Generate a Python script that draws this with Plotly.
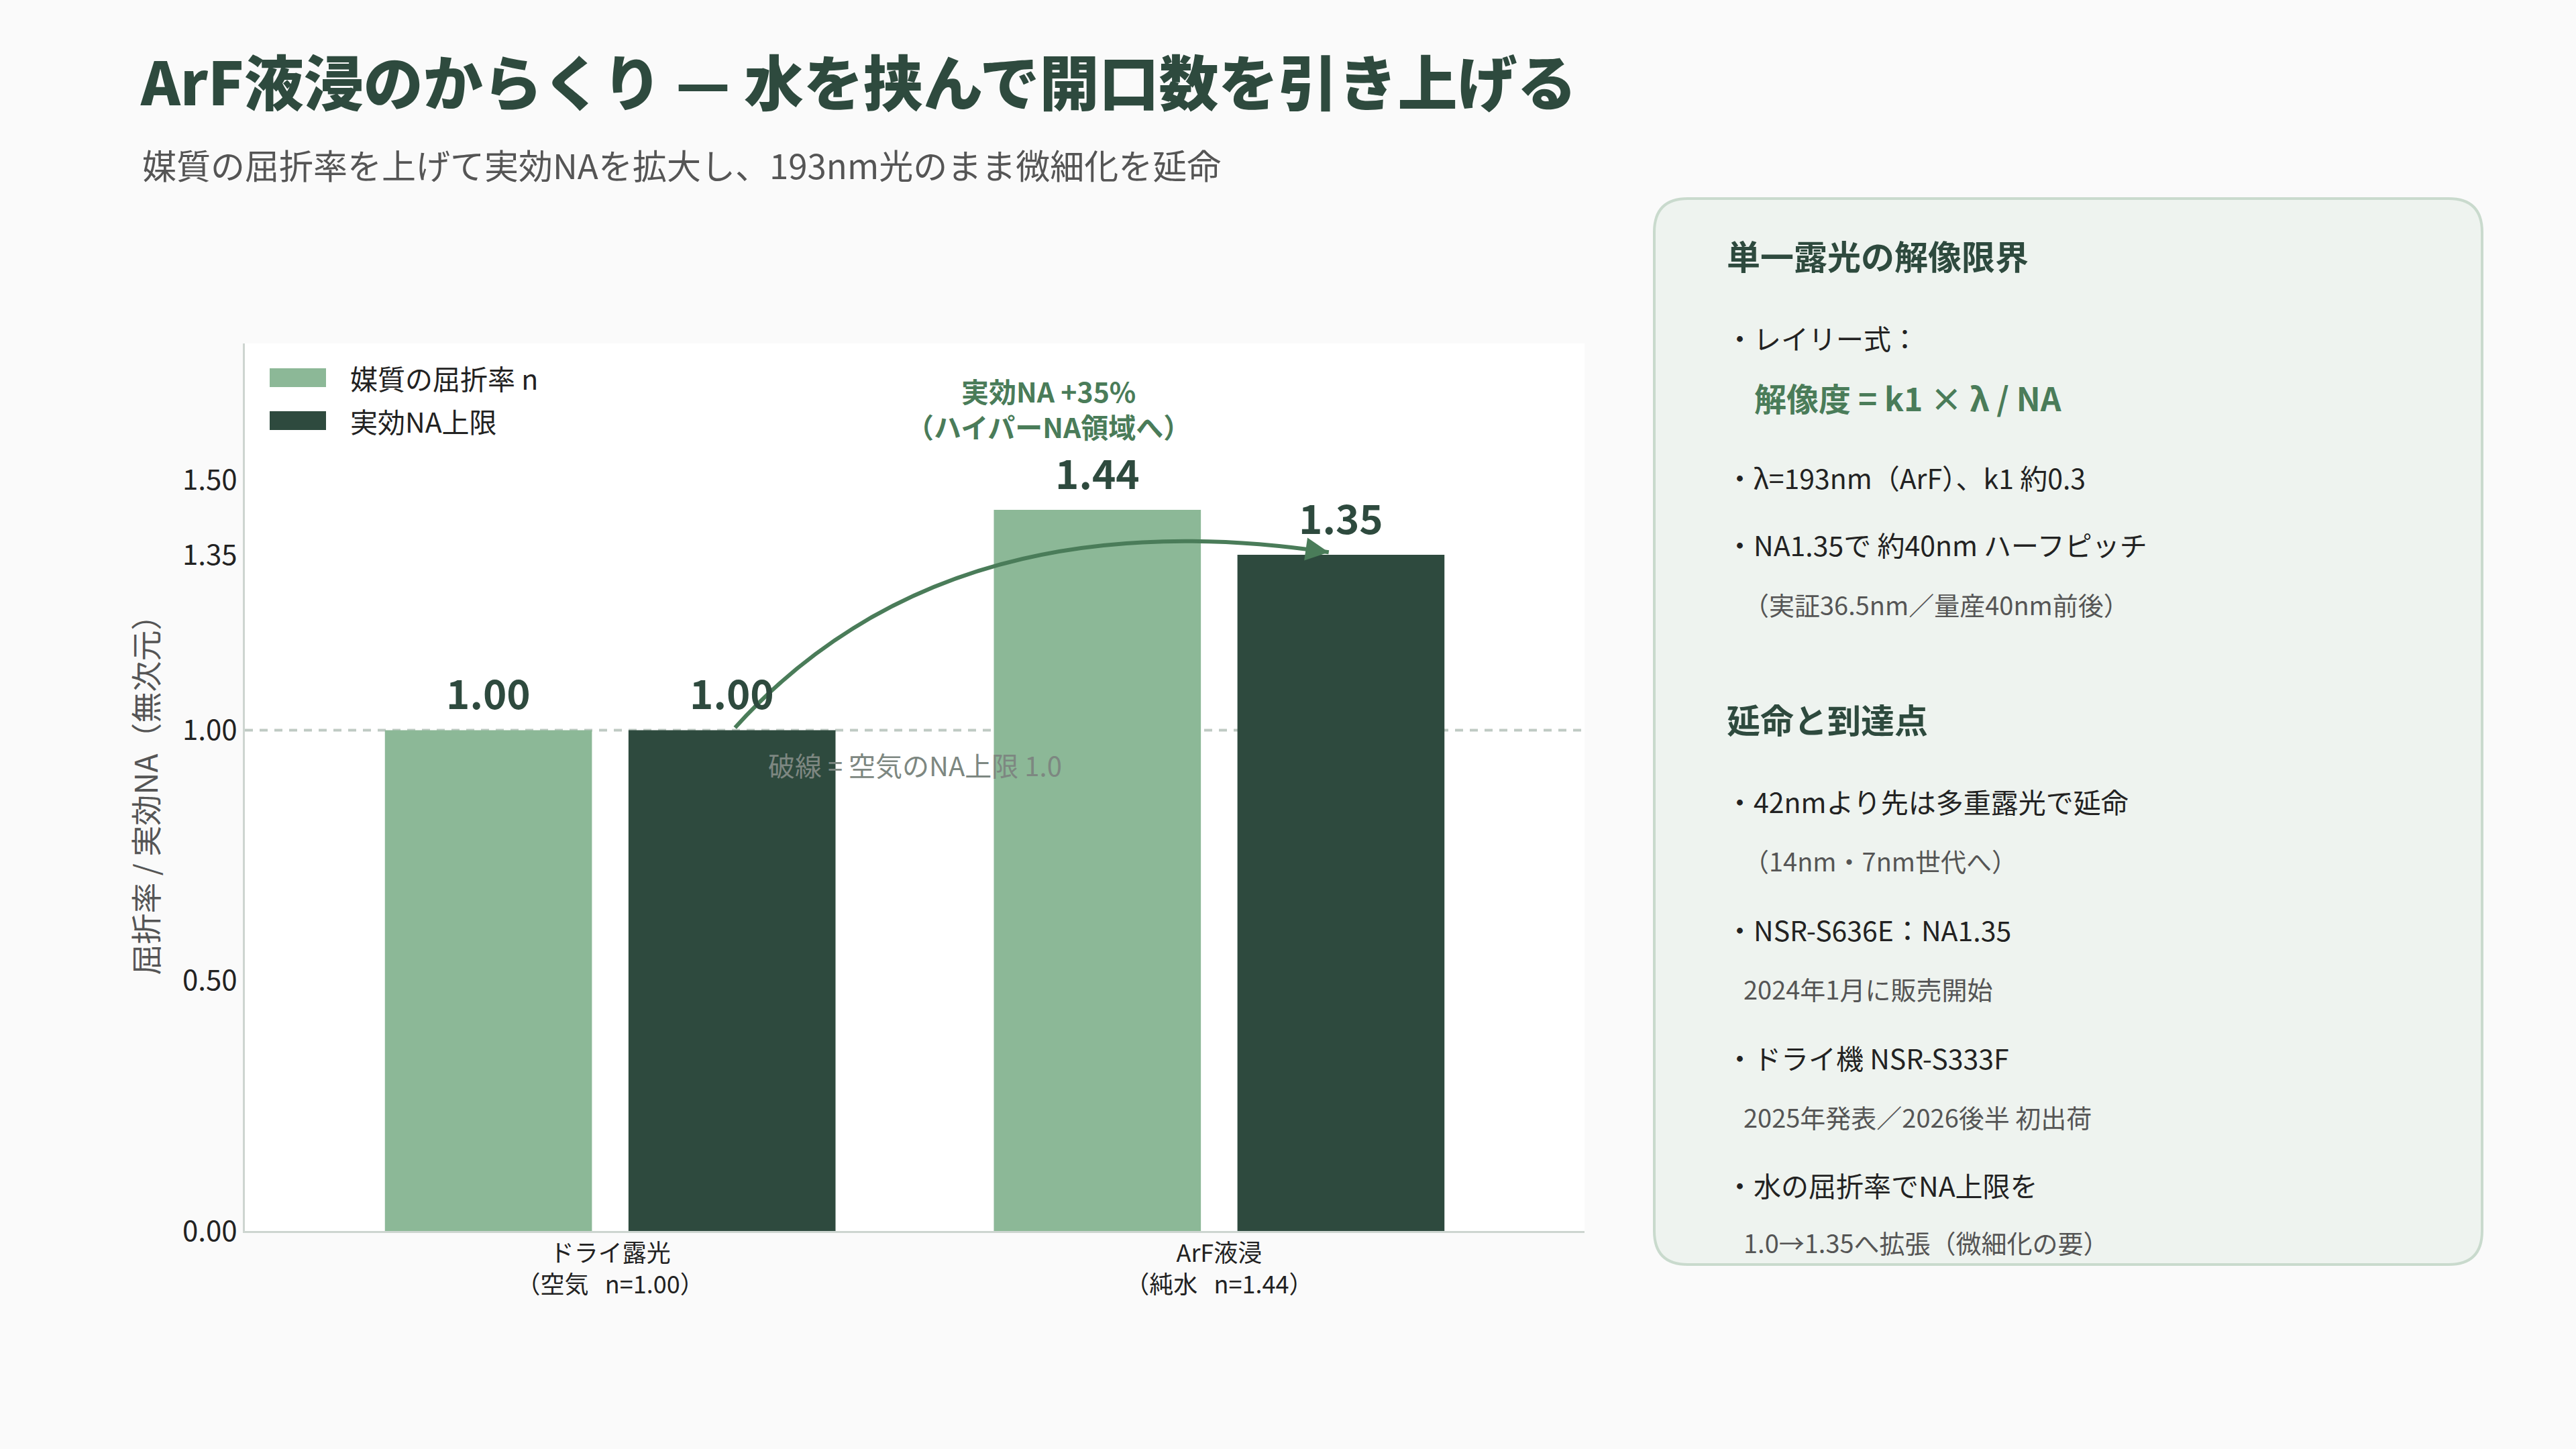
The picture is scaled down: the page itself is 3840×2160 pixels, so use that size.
import plotly.graph_objects as go

# ---------------- data ----------------
categories = ["ドライ露光<br>（空気\u00a0\u00a0\u00a0n=1.00）", "ArF液浸<br>（純水\u00a0\u00a0\u00a0n=1.44）"]
refractive_index = [1.00, 1.44]
effective_na = [1.00, 1.35]
series_names = ["媒質の屈折率 n", "実効NA上限"]
y_tick_values = [0.0, 0.5, 1.0, 1.35, 1.5]
air_na_limit = 1.0

title_text = "ArF液浸のからくり — 水を挟んで開口数を引き上げる"
subtitle_text = "媒質の屈折率を上げて実効NAを拡大し、193nm光のまま微細化を延命"
y_title = "屈折率 / 実効NA（無次元）"
limit_note = "破線 = 空気のNA上限 1.0"
gain_note = "実効NA +35%<br>（ハイパーNA領域へ）"

panel_texts = [
    "単一露光の解像限界",
    "・レイリー式：",
    "解像度 = k1 × λ / NA",
    "・λ=193nm（ArF）、k1 約0.3",
    "・NA1.35で 約40nm ハーフピッチ",
    "（実証36.5nm／量産40nm前後）",
    "延命と到達点",
    "・42nmより先は多重露光で延命",
    "（14nm・7nm世代へ）",
    "・NSR-S636E：NA1.35",
    "2024年1月に販売開始",
    "・ドライ機 NSR-S333F",
    "2025年発表／2026後半 初出荷",
    "・水の屈折率でNA上限を",
    "1.0→1.35へ拡張（微細化の要）",
]
panel_kinds = ["head", "bullet", "formula", "bullet", "bullet", "sub", "head",
               "bullet", "sub", "bullet", "sub", "bullet", "sub", "bullet", "sub"]

# ---------------- layout constants ----------------
W, H = 3840, 2160
ML, MR, MT, MB = 365, 1478, 512, 325
PW, PH = W - ML - MR, H - MT - MB
FONT = "Noto Sans CJK JP"
C_LIGHT = "#8cb897"
C_DARK = "#2e4a3e"
C_ACCENT = "#4a7c59"

def px(X):
    return (X - ML) / PW

def py(Y):
    return (H - MB - Y) / PH

BAR_W = 0.34
OFFSETS = [-0.37, 0.03]
COLORS = [C_LIGHT, C_DARK]

fig = go.Figure()
x_idx = list(range(len(categories)))
for vals, name, off, col in zip([refractive_index, effective_na], series_names, OFFSETS, COLORS):
    fig.add_trace(go.Bar(x=x_idx, y=vals, width=BAR_W, offset=off, name=name,
                         marker=dict(color=col, line=dict(width=0)), showlegend=False))

annotations = []
shapes = []

# value labels
for vals, off in zip([refractive_index, effective_na], OFFSETS):
    for i, v in enumerate(vals):
        annotations.append(dict(x=i + off + BAR_W / 2, y=v, xref="x", yref="y",
                                text=f"<b>{v:.2f}</b>", showarrow=False,
                                yanchor="bottom", yshift=12,
                                font=dict(family=FONT, size=60, color=C_DARK)))

# dashed air limit line (below bars)
shapes.append(dict(type="line", xref="paper", x0=0, x1=1, yref="y", y0=air_na_limit, y1=air_na_limit,
                   line=dict(color="#bfcac3", width=4, dash="12px,10px"), layer="below"))
annotations.append(dict(x=0.5, y=air_na_limit, xref="x", yref="y", text=limit_note, showarrow=False,
                        yanchor="middle", yshift=-52,
                        font=dict(family=FONT, size=40, color="#7d8781")))

# curved arrow from dry effective NA to immersion effective NA
dark_center = OFFSETS[1] + BAR_W / 2
x0a, y0a = 0 + dark_center + 0.005, effective_na[0] + 0.005
x2a, y2a = 1 + dark_center - 0.02, effective_na[1] + 0.005
cxa, cya = x0a + 0.345, y2a + 0.113
shapes.append(dict(type="path", xref="x", yref="y",
                   path=f"M {x0a},{y0a} Q {cxa},{cya} {x2a},{y2a}",
                   line=dict(color=C_ACCENT, width=6), fillcolor="rgba(0,0,0,0)", layer="above"))
annotations.append(dict(x=x2a, y=y2a, xref="x", yref="y", ax=-28, ay=-4, text="",
                        showarrow=True, arrowhead=2, arrowsize=1.15, arrowwidth=6,
                        arrowcolor=C_ACCENT))
annotations.append(dict(x=0.72, y=1.643, xref="x", yref="y", text=f"<b>{gain_note}</b>",
                        showarrow=False, xanchor="center", yanchor="middle",
                        font=dict(family=FONT, size=41, color=C_ACCENT)))

# manual legend
for (y_top, col, name, ty) in [(549, C_LIGHT, series_names[0], 563), (613, C_DARK, series_names[1], 627)]:
    shapes.append(dict(type="rect", xref="paper", yref="paper",
                       x0=px(402), x1=px(486), y0=py(y_top + 28), y1=py(y_top),
                       fillcolor=col, line=dict(width=0)))
    annotations.append(dict(x=px(520), y=py(ty), xref="paper", yref="paper", text=name,
                            showarrow=False, xanchor="left", yanchor="middle",
                            font=dict(family=FONT, size=41, color="#222222")))

# title / subtitle
annotations.append(dict(x=px(207), y=py(118), xref="paper", yref="paper", text=title_text,
                        showarrow=False, xanchor="left", yanchor="middle",
                        font=dict(family=FONT, size=89, color=C_DARK, weight=900)))
annotations.append(dict(x=px(210), y=py(245), xref="paper", yref="paper", text=subtitle_text,
                        showarrow=False, xanchor="left", yanchor="middle",
                        font=dict(family=FONT, size=51, color="#555555")))

# side panel (rounded rectangle)
bx0, by0, bx1, by1, r = 2466, 296, 3700, 1885, 50
pts = [
    f"M {px(bx0 + r)},{py(by0)}", f"L {px(bx1 - r)},{py(by0)}",
    f"Q {px(bx1)},{py(by0)} {px(bx1)},{py(by0 + r)}", f"L {px(bx1)},{py(by1 - r)}",
    f"Q {px(bx1)},{py(by1)} {px(bx1 - r)},{py(by1)}", f"L {px(bx0 + r)},{py(by1)}",
    f"Q {px(bx0)},{py(by1)} {px(bx0)},{py(by1 - r)}", f"L {px(bx0)},{py(by0 + r)}",
    f"Q {px(bx0)},{py(by0)} {px(bx0 + r)},{py(by0)}", "Z",
]
shapes.append(dict(type="path", xref="paper", yref="paper", path=" ".join(pts),
                   fillcolor="#eef3ef", line=dict(color="#c9dacd", width=4), layer="below"))

panel_y = [380, 503, 592, 711, 811, 900, 1071, 1194, 1282, 1385, 1473, 1576, 1664, 1766, 1851]
styles = {
    "head": dict(x=2572, size=50, color=C_DARK, bold=True),
    "bullet": dict(x=2571, size=41, color="#222222", bold=False),
    "formula": dict(x=2613, size=48, color=C_ACCENT, bold=True),
    "sub": dict(x=2597, size=38, color="#555555", bold=False),
}
for txt, kind, yy in zip(panel_texts, panel_kinds, panel_y):
    st = styles[kind]
    t = f"<b>{txt}</b>" if st["bold"] else txt
    annotations.append(dict(x=px(st["x"]), y=py(yy), xref="paper", yref="paper", text=t,
                            showarrow=False, xanchor="left", yanchor="middle",
                            font=dict(family=FONT, size=st["size"], color=st["color"])))

fig.update_layout(
    width=W, height=H, autosize=False,
    margin=dict(l=ML, r=MR, t=MT, b=MB, pad=0),
    paper_bgcolor="#fafafa", plot_bgcolor="#ffffff",
    barmode="overlay", showlegend=False,
    font=dict(family=FONT, color="#222222"),
    xaxis=dict(range=[-0.6, 1.6], tickvals=x_idx, ticktext=categories, showgrid=False,
               zeroline=False, showline=True, linecolor="#cdd5d0", linewidth=3, ticks="",
               tickfont=dict(family=FONT, size=36, color="#222222"), fixedrange=True),
    yaxis=dict(range=[0, 1.772], tickvals=y_tick_values, tickformat=".2f", showgrid=False,
               zeroline=False, showline=True, linecolor="#cdd5d0", linewidth=3, ticks="",
               tickfont=dict(family=FONT, size=42, color="#222222"),
               title=dict(text=y_title, standoff=22, font=dict(family=FONT, size=46, color="#555555")),
               fixedrange=True),
    annotations=annotations, shapes=shapes,
)

fig.write_html("out.html")
